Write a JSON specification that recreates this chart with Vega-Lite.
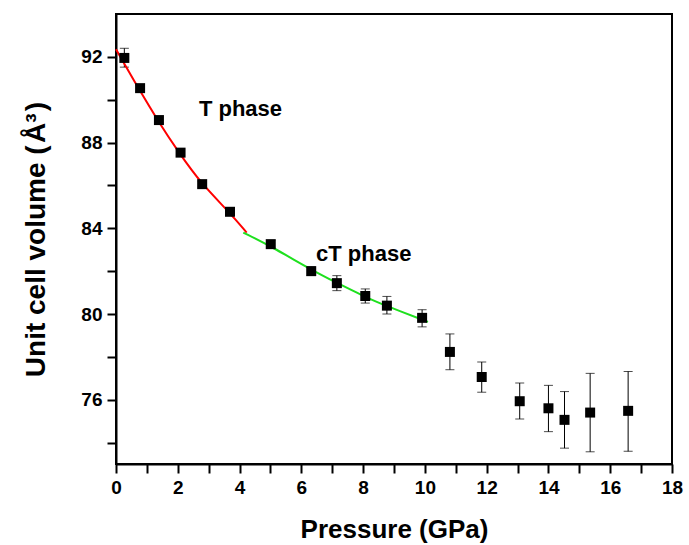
{
  "$schema": "https://vega.github.io/schema/vega-lite/v6.json",
  "width": 556,
  "height": 450,
  "autosize": "none",
  "padding": {"left": 116, "top": 14, "right": 17, "bottom": 81},
  "background": "white",
  "config": {
    "view": {"stroke": "black", "strokeWidth": 2},
    "font": "Liberation Sans"
  },
  "datasets": {
    "pts": [
      {"P": 0.27, "V": 91.95, "lo": 91.52, "hi": 92.4},
      {"P": 0.78, "V": 90.54, "lo": 90.4, "hi": 90.68},
      {"P": 1.39, "V": 89.05, "lo": 88.91, "hi": 89.19},
      {"P": 2.09, "V": 87.53, "lo": 87.39, "hi": 87.67},
      {"P": 2.79, "V": 86.06, "lo": 85.92, "hi": 86.2},
      {"P": 3.69, "V": 84.77, "lo": 84.6, "hi": 84.94},
      {"P": 5.01, "V": 83.26, "lo": 83.09, "hi": 83.43},
      {"P": 6.32, "V": 82.0, "lo": 81.8, "hi": 82.2},
      {"P": 7.15, "V": 81.44, "lo": 81.09, "hi": 81.79},
      {"P": 8.07, "V": 80.84, "lo": 80.51, "hi": 81.17},
      {"P": 8.77, "V": 80.39, "lo": 80.0, "hi": 80.82},
      {"P": 9.91, "V": 79.82, "lo": 79.4, "hi": 80.2},
      {"P": 10.81, "V": 78.23, "lo": 77.4, "hi": 79.07},
      {"P": 11.84, "V": 77.06, "lo": 76.35, "hi": 77.76},
      {"P": 13.07, "V": 75.93, "lo": 75.1, "hi": 76.78},
      {"P": 14.0, "V": 75.6, "lo": 74.51, "hi": 76.67},
      {"P": 14.52, "V": 75.06, "lo": 73.74, "hi": 76.38},
      {"P": 15.35, "V": 75.4, "lo": 73.57, "hi": 77.23},
      {"P": 16.58, "V": 75.48, "lo": 73.59, "hi": 77.32}
    ],
    "fits": [
      {"phase": "T", "P": 0.0, "V": 92.35},
      {"phase": "T", "P": 0.72, "V": 90.55},
      {"phase": "T", "P": 1.34, "V": 89.05},
      {"phase": "T", "P": 2.04, "V": 87.52},
      {"phase": "T", "P": 2.77, "V": 86.07},
      {"phase": "T", "P": 3.67, "V": 84.75},
      {"phase": "T", "P": 4.23, "V": 83.8},
      {"phase": "cT", "P": 4.12, "V": 83.8},
      {"phase": "cT", "P": 5.04, "V": 83.14},
      {"phase": "cT", "P": 6.34, "V": 82.05},
      {"phase": "cT", "P": 7.14, "V": 81.46},
      {"phase": "cT", "P": 8.06, "V": 80.8},
      {"phase": "cT", "P": 8.76, "V": 80.37},
      {"phase": "cT", "P": 10.1, "V": 79.63}
    ],
    "notes": [
      {"P": 4.03, "V": 89.24, "label": "T phase"},
      {"P": 8.02, "V": 82.49, "label": "cT phase"}
    ]
  },
  "encoding": {
    "x": {
      "field": "P",
      "type": "quantitative",
      "scale": {"domain": [0, 18], "nice": false, "zero": false},
      "axis": {
        "orient": "bottom",
        "title": "Pressure (GPa)",
        "values": [0, 1, 2, 3, 4, 5, 6, 7, 8, 9, 10, 11, 12, 13, 14, 15, 16, 17, 18],
        "labelExpr": "datum.value % 2 == 0 ? datum.label : ''",
        "ticks": true,
        "tickSize": 9,
        "encode": {
          "ticks": {
            "update": {
              "y": {"value": 0},
              "y2": {"signal": "datum.value % 2 == 0 ? 9 : 5"},
              "stroke": {"value": "black"},
              "strokeWidth": {"value": 2},
              "opacity": {"value": 1},
              "strokeOpacity": {"value": 1}
            }
          }
        },
        "grid": false,
        "domainColor": "black",
        "domainWidth": 2,
        "tickColor": "black",
        "tickWidth": 2,
        "labelColor": "black",
        "labelFont": "Liberation Sans",
        "labelFontWeight": "bold",
        "labelFontSize": 19,
        "labelPadding": 5,
        "labelFlush": false,
        "labelOverlap": false,
        "titleColor": "black",
        "titleFont": "Liberation Sans",
        "titleFontWeight": "bold",
        "titleFontSize": 26,
        "titlePadding": 19
      }
    },
    "y": {
      "field": "V",
      "type": "quantitative",
      "scale": {"domain": [73, 94], "nice": false, "zero": false},
      "axis": {
        "title": "Unit cell volume (\u200aÅ³\u200a)",
        "values": [74, 76, 78, 80, 82, 84, 86, 88, 90, 92],
        "labelExpr": "datum.value % 4 == 0 ? datum.label : ''",
        "tickSize": 9,
        "encode": {"ticks": {"update": {"x2": {"signal": "datum.value % 4 == 0 ? -9 : -5"}}}},
        "grid": false,
        "domainColor": "black",
        "domainWidth": 2,
        "tickColor": "black",
        "tickWidth": 2,
        "labelColor": "black",
        "labelFont": "Liberation Sans",
        "labelFontWeight": "bold",
        "labelFontSize": 19,
        "labelPadding": 5,
        "labelFlush": false,
        "labelOverlap": false,
        "titleColor": "black",
        "titleFont": "Liberation Sans",
        "titleFontWeight": "bold",
        "titleFontSize": 28,
        "titlePadding": 30
      }
    }
  },
  "layer": [
    {
      "data": {"name": "pts"},
      "mark": {"type": "rule", "color": "black", "strokeWidth": 1},
      "encoding": {
        "y": {"field": "lo", "type": "quantitative"},
        "y2": {"field": "hi"}
      }
    },
    {
      "data": {"name": "pts"},
      "mark": {"type": "tick", "color": "black", "orient": "horizontal", "size": 9, "thickness": 1},
      "encoding": {
        "y": {"field": "lo", "type": "quantitative"}
      }
    },
    {
      "data": {"name": "pts"},
      "mark": {"type": "tick", "color": "black", "orient": "horizontal", "size": 9, "thickness": 1},
      "encoding": {
        "y": {"field": "hi", "type": "quantitative"}
      }
    },
    {
      "data": {"name": "fits"},
      "mark": {"type": "line", "strokeWidth": 2, "interpolate": "basis"},
      "encoding": {
        "color": {
          "field": "phase",
          "type": "nominal",
          "scale": {"domain": ["T", "cT"], "range": ["#ff0000", "#1ee01e"]},
          "legend": null
        },
        "order": {"field": "P", "type": "quantitative"}
      }
    },
    {
      "data": {"name": "pts"},
      "mark": {"type": "point", "shape": "square", "filled": true, "size": 100, "color": "black", "opacity": 1}
    },
    {
      "data": {"name": "notes"},
      "mark": {"type": "text", "font": "Liberation Sans", "fontWeight": "bold", "fontSize": 22, "align": "center", "baseline": "alphabetic", "color": "black"},
      "encoding": {
        "text": {"field": "label"}
      }
    }
  ]
}
